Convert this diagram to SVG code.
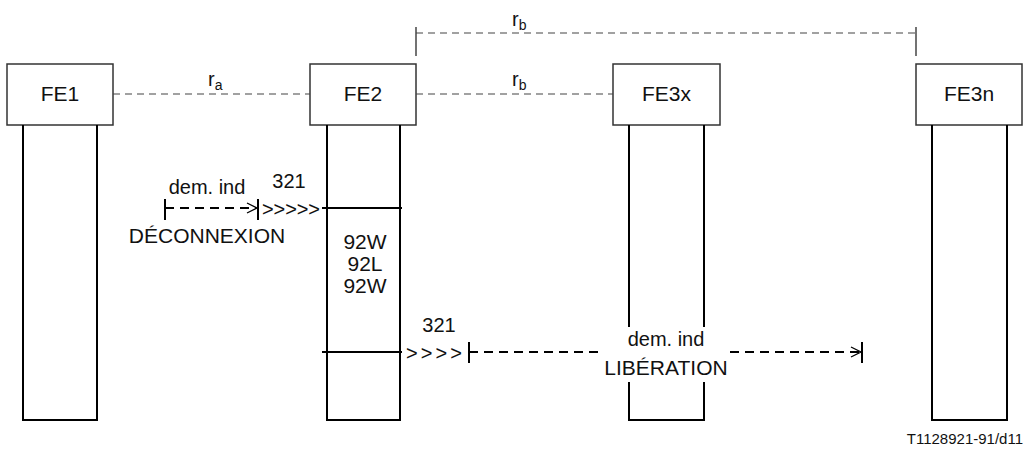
<svg xmlns="http://www.w3.org/2000/svg" width="1029" height="453" viewBox="0 0 1029 453">
<style>
text{font-family:"Liberation Sans",Arial,sans-serif;font-size:20px;fill:#111}
.big{font-size:21px}
.box{fill:#fff;stroke:#333;stroke-width:1.5}
.life{fill:none;stroke:#000;stroke-width:2}
.rel{stroke:#444;stroke-width:1.2;stroke-dasharray:7 5;fill:none}
.tick{stroke:#444;stroke-width:1.5}
.msg{stroke:#000;stroke-width:2;stroke-dasharray:9 6;fill:none}
.solid{stroke:#000;stroke-width:2;fill:none}
.head{stroke:#000;stroke-width:1.3;fill:none}
.sub{font-size:14px}
.mid{text-anchor:middle}
</style>
<g id="FE1">
<rect class="box" x="7" y="64" width="106" height="61"/>
<text class="mid big" x="60" y="101">FE1</text>
<polyline class="life" points="23,125 23,420 97,420 97,125"/>
</g>
<g id="FE2">
<rect class="box" x="310" y="64" width="106" height="61"/>
<text class="mid big" x="363" y="101">FE2</text>
<polyline class="life" points="327,125 327,420 400,420 400,125"/>
<line class="solid" x1="322" y1="208" x2="402" y2="208"/>
<line class="solid" x1="322" y1="352" x2="402" y2="352"/>
<text class="mid big" x="365" y="249">92W</text>
<text class="mid big" x="365" y="271">92L</text>
<text class="mid big" x="365" y="293">92W</text>
</g>
<g id="FE3x">
<rect class="box" x="613" y="64" width="107" height="61"/>
<text class="mid big" x="666.5" y="101">FE3x</text>
<line class="life" x1="629" y1="125" x2="629" y2="327"/>
<line class="life" x1="704" y1="125" x2="704" y2="327"/>
<polyline class="life" points="629,382 629,420 704,420 704,382"/>
</g>
<g id="FE3n">
<rect class="box" x="916" y="64" width="106" height="61"/>
<text class="mid big" x="969" y="101">FE3n</text>
<polyline class="life" points="932,125 932,420 1007,420 1007,125"/>
</g>
<g id="connectors">
<line class="rel" x1="416" y1="33" x2="916" y2="33"/>
<line class="tick" x1="416" y1="27" x2="416" y2="56"/>
<line class="tick" x1="916" y1="27" x2="916" y2="56"/>
<text x="512" y="26">r<tspan class="sub" dy="4">b</tspan></text>
<line class="rel" x1="113" y1="94" x2="310" y2="94"/>
<text x="208" y="86">r<tspan class="sub" dy="4">a</tspan></text>
<line class="rel" x1="416" y1="94" x2="613" y2="94"/>
<text x="512" y="86">r<tspan class="sub" dy="4">b</tspan></text>
<line class="solid" x1="165" y1="199" x2="165" y2="220"/>
<line class="msg" x1="165" y1="208" x2="256" y2="208"/>
<polyline class="head" points="247,203 257,208 247,213"/>
<line class="solid" x1="258" y1="199" x2="258" y2="220"/>
<text x="207" y="194" class="mid">dem. ind</text>
<text x="289" y="188" class="mid">321</text>
<text x="262" y="216" textLength="58">&gt;&gt;&gt;&gt;&gt;</text>
<text x="207" y="243" class="mid big">DÉCONNEXION</text>
<text x="439" y="332" class="mid">321</text>
<text x="406" y="360" textLength="56">&gt;&gt;&gt;&gt;</text>
<line class="solid" x1="469" y1="342" x2="469" y2="363"/>
<line class="msg" x1="469" y1="352" x2="602" y2="352"/>
<line class="msg" x1="730" y1="352" x2="859" y2="352" stroke-dasharray="2 6 9 6 9 6 9 6 9 6 9 6 9 6 9"/>
<polyline class="head" points="851,347 861,352 851,357"/>
<line class="solid" x1="862" y1="342" x2="862" y2="363"/>
<text x="666" y="346" class="mid">dem. ind</text>
<text x="666" y="375" class="mid big">LIBÉRATION</text>
</g>
<text x="1023" y="444" text-anchor="end" style="font-size:15px">T1128921-91/d11</text>
</svg>
